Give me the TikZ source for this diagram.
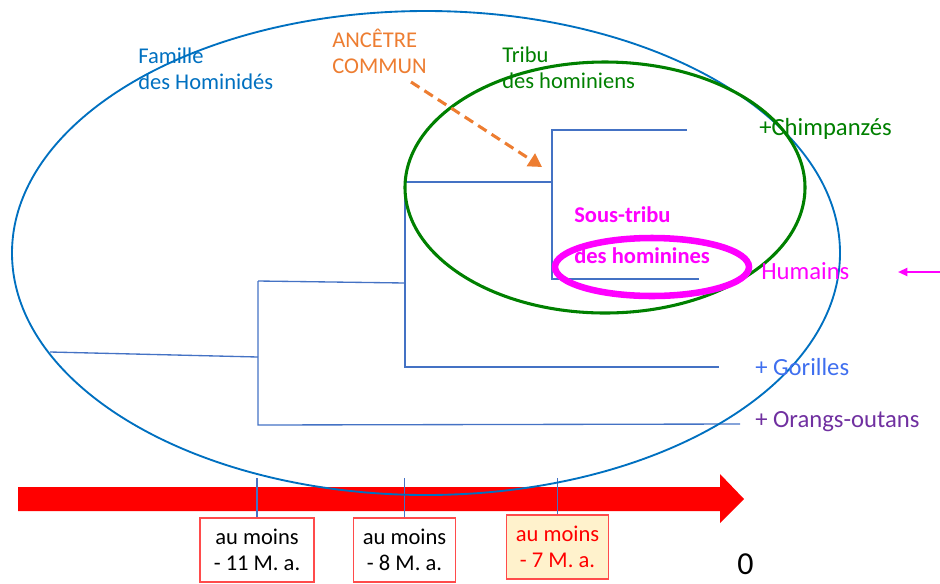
\documentclass[tikz,border=0pt]{standalone}
\usepackage{fontspec}
\setmainfont{Carlito}
\usetikzlibrary{arrows.meta}
\definecolor{famblue}{HTML}{0070C0}
\definecolor{treeblue}{HTML}{4472C4}
\definecolor{ancorange}{HTML}{ED7D31}
\definecolor{tribgreen}{HTML}{008000}
\definecolor{hommagenta}{HTML}{FF00FF}
\definecolor{gorblue}{HTML}{3F6FEF}
\definecolor{orpurple}{HTML}{7030A0}
\definecolor{boxred}{HTML}{FF4B4B}
\definecolor{boxfill}{HTML}{FFF2CC}

\begin{document}
\begin{tikzpicture}[x=0.75pt,y=-0.75pt,
    txt/.style={inner sep=0pt,anchor=base west,align=left,
        font=\fontsize{16.9}{19.5}\selectfont},
    leaf/.style={inner sep=0pt,anchor=base west,
        font=\fontsize{18.5}{22}\selectfont},
    branch/.style={treeblue,line width=1pt},
    datebox/.style={draw=boxred,line width=0.8pt,align=center,inner sep=0pt,
        minimum height=48pt,font=\fontsize{16.9}{19.5}\selectfont}]
    \useasboundingbox (0,0) rectangle (940,583);
    % time axis
    \fill[red] (18,487) -- (720,487) -- (720,474) -- (744,499) -- (720,523)
        -- (720,511) -- (18,511) -- cycle;
    % dates
    \node[datebox,minimum width=85.5pt] (b11) at (257,550) {au moins\\- 11 M. a.};
    \node[datebox,minimum width=77pt] (b8) at (404.5,550) {au moins\\- 8 M. a.};
    \node[datebox,minimum width=77pt,fill=boxfill,text=red] (b7) at (557.5,547) {au moins\\- 7 M. a.};
    \draw[branch] (b11.north) -- ++(0,-39);
    \draw[branch] (b8.north) -- ++(0,-39);
    \draw[branch] (b7.north) -- ++(0,-36);
    \node[inner sep=0pt,anchor=base west,font=\fontsize{24}{28}\selectfont] (zero) at (737,574) {0};
    % cladogram
    \coordinate (root) at (50,352);
    \coordinate (n11) at (258,357);
    \coordinate (n8) at (405,283);
    \coordinate (n7) at (552,182);
    \draw[branch] (root) -- (n11);
    \draw[branch] (258,281) -- (n8) (258,281) -- (258,425) -- (740,424);
    \draw[branch] (405,182) -- (405,367) -- (719,367);
    \draw[branch] (405,182) -- (n7);
    \draw[branch] (687,130) -- (552,130) -- (552,279) -- (699,279);
    % groups
    \draw[famblue,line width=1.4pt] (426,253) ellipse (414 and 242);
    \draw[tribgreen,line width=2.3pt] (605,187.5) ellipse (200 and 125.5);
    \draw[hommagenta,line width=4.9pt] (652,267) ellipse (97 and 29);
    % labels (base = last line)
    \node[txt,famblue] (fam) at (138,89) {Famille\\des Hominidés};
    \node[txt,ancorange] (anc) at (332,73) {ANCÊTRE\\COMMUN};
    \node[txt,tribgreen] (tribu) at (502,88) {Tribu\\des hominiens};
    \node[txt,hommagenta,font=\fontsize{16.9}{30.75}\selectfont\bfseries] (soustribu) at (574,263) {Sous-tribu\\des hominines};
    \node[leaf,tribgreen] (chimp) at (759,135) {+Chimpanzés};
    \node[leaf,hommagenta] (hum) at (761,279) {Humains};
    \node[leaf,gorblue] (gor) at (755,375) {+ Gorilles};
    \node[leaf,orpurple] (orang) at (755,427) {+ Orangs-outans};
    \coordinate (ancend) at (542,167);
    \draw[ancorange,line width=2.3pt,dash pattern=on 7.5pt off 4.5pt,-{Triangle[length=10pt,width=11pt]}]
        (411,82) -- (ancend);
    \coordinate (humarrow) at (940,272);
    \draw[hommagenta,line width=1.5pt,-{Triangle[length=7pt,width=6pt]}] (humarrow) -- (898,272);
\end{tikzpicture}
\end{document}
